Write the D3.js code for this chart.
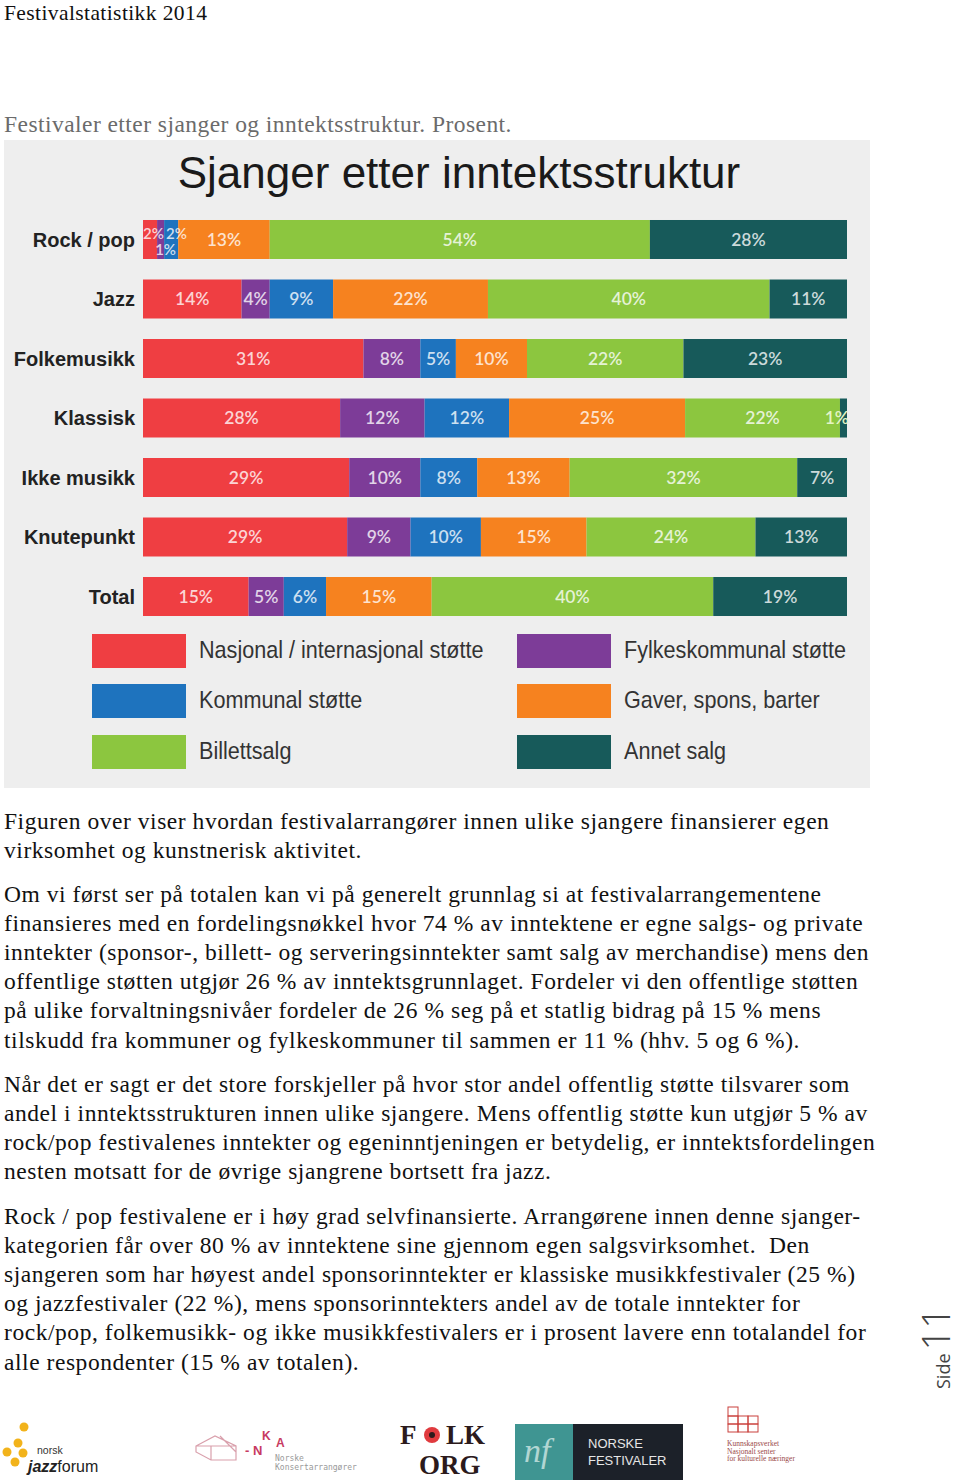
<!DOCTYPE html>
<html><head><meta charset="utf-8">
<script src="https://cdn.jsdelivr.net/npm/d3@7"></script>
<style>body{margin:0;background:#fff}svg{display:block}</style>
</head><body><svg id="c" width="960" height="1480"></svg>
<script>
// ---- data ----
const categories = ["Rock / pop","Jazz","Folkemusikk","Klassisk","Ikke musikk","Knutepunkt","Total"];
const seriesNames = ["Nasjonal / internasjonal støtte","Fylkeskommunal støtte","Kommunal støtte","Gaver, spons, barter","Billettsalg","Annet salg"];
const nasjonal = [2,14,31,28,29,29,15];
const fylkeskommunal = [1,4,8,12,10,9,5];
const kommunal = [2,9,5,12,8,10,6];
const gaver = [13,22,10,25,13,15,15];
const billettsalg = [54,40,22,22,32,24,40];
const annet = [28,11,23,1,7,13,19];
const colors = ["#ef3e42","#7d3c98","#1e73be","#f6821f","#8cc63f","#175a5a"];
// legend order (two columns)
const legendOrder = [0,2,4,1,3,5];

const seriesValues = [nasjonal,fylkeskommunal,kommunal,gaver,billettsalg,annet];
const rows = categories.map((c,i)=>{const o={cat:c}; seriesNames.forEach((s,j)=>o[s]=seriesValues[j][i]); return o;});

const svg = d3.select("#c");
const serif = "'Liberation Serif','DejaVu Serif',serif";
const sans = "'Liberation Sans',Arial,sans-serif";

// page header
svg.append("text").attr("x",4).attr("y",20).attr("font-family",serif).attr("font-size",21.5).attr("letter-spacing","0.4px").attr("fill","#111").text("Festivalstatistikk 2014");
svg.append("text").attr("x",4).attr("y",132).attr("font-family",serif).attr("font-size",23.5).attr("letter-spacing","0.45px").attr("fill","#6b6b6b").text("Festivaler etter sjanger og inntektsstruktur. Prosent.");

// chart panel
svg.append("rect").attr("x",4).attr("y",140).attr("width",866).attr("height",648).attr("fill","#eeeeee");
svg.append("text").attr("x",459).attr("y",188).attr("text-anchor","middle").attr("font-family",sans).attr("font-size",44).attr("fill","#1a1a1a").text("Sjanger etter inntektsstruktur");

const stack = d3.stack().keys(seriesNames).offset(d3.stackOffsetExpand);
const stacked = stack(rows);
const x = d3.scaleLinear().domain([0,1]).range([143,847]);
const y = d3.scaleBand().domain(categories).range([199.5,636.5]).paddingInner(0.3445).paddingOuter(0.3445);

const g = svg.append("g");
const layers = g.selectAll("g.layer").data(stacked).join("g").attr("class","layer").attr("fill",(d,i)=>colors[i]);
layers.selectAll("rect").data(d=>d.map(p=>({p,key:d.key}))).join("rect")
  .attr("x",d=>x(d.p[0])).attr("width",d=>x(d.p[1])-x(d.p[0]))
  .attr("y",d=>y(d.p.data.cat)).attr("height",y.bandwidth());

// segment labels
const lab = svg.append("g").attr("font-family","Lato,'Noto Sans',sans-serif").attr("font-weight",600);
stacked.forEach((layer,si)=>{
  const last = si===stacked.length-1;
  layer.forEach(p=>{
    const v = p.data[layer.key];
    const x0=x(p[0]), x1=x(p[1]), w=x1-x0;
    const cy = y(p.data.cat)+y.bandwidth()/2;
    const t = lab.append("text").attr("fill","rgba(255,255,255,0.78)").text(v+"%");
    if (w>=25) {
      t.attr("x",(x0+x1)/2).attr("y",cy).attr("dy","0.36em").attr("text-anchor","middle").attr("font-size",17.5);
    } else if (last) {
      t.attr("x",x1+2).attr("y",cy).attr("dy","0.36em").attr("text-anchor","end").attr("font-size",17.5).attr("fill","#e4f4c4");
    } else if (si%2===1) {
      t.attr("x",(x0+x1)/2+5).attr("y",cy+10).attr("dy","0.36em").attr("text-anchor","middle").attr("font-size",15);
    } else {
      t.attr("x",x0+(si===0?0:2)).attr("y",cy-6).attr("dy","0.36em").attr("text-anchor","start").attr("font-size",15);
    }
  });
});

// category labels
svg.append("g").selectAll("text").data(categories).join("text")
  .attr("x",135).attr("y",d=>y(d)+y.bandwidth()/2).attr("dy","0.36em").attr("text-anchor","end")
  .attr("font-family",sans).attr("font-size",20).attr("font-weight",600).attr("fill","#222").text(d=>d);

// legend
const lg = svg.append("g");
legendOrder.forEach((si,k)=>{
  const col = Math.floor(k/3), row = k%3;
  const lx = col===0?92:517, ly = [634,684,735][row];
  lg.append("rect").attr("x",lx).attr("y",ly).attr("width",94).attr("height",34).attr("fill",colors[si]);
  lg.append("text").attr("x",lx+107).attr("y",ly+15).attr("dy","0.36em").attr("font-family",sans).attr("font-size",24).attr("fill","#333")
    .attr("transform",`translate(${(lx+107)*0.1},0) scale(0.9,1)`).text(seriesNames[si]);
});

// body text
const paras = [
 ["Figuren over viser hvordan festivalarrangører innen ulike sjangere finansierer egen",
  "virksomhet og kunstnerisk aktivitet."],
 ["Om vi først ser på totalen kan vi på generelt grunnlag si at festivalarrangementene",
  "finansieres med en fordelingsnøkkel hvor 74 % av inntektene er egne salgs- og private",
  "inntekter (sponsor-, billett- og serveringsinntekter samt salg av merchandise) mens den",
  "offentlige støtten utgjør 26 % av inntektsgrunnlaget. Fordeler vi den offentlige støtten",
  "på ulike forvaltningsnivåer fordeler de 26 % seg på et statlig bidrag på 15 % mens",
  "tilskudd fra kommuner og fylkeskommuner til sammen er 11 % (hhv. 5 og 6 %)."],
 ["Når det er sagt er det store forskjeller på hvor stor andel offentlig støtte tilsvarer som",
  "andel i inntektsstrukturen innen ulike sjangere. Mens offentlig støtte kun utgjør 5 % av",
  "rock/pop festivalenes inntekter og egeninntjeningen er betydelig, er inntektsfordelingen",
  "nesten motsatt for de øvrige sjangrene bortsett fra jazz."],
 ["Rock / pop festivalene er i høy grad selvfinansierte. Arrangørene innen denne sjanger-",
  "kategorien får over 80 % av inntektene sine gjennom egen salgsvirksomhet.  Den",
  "sjangeren som har høyest andel sponsorinntekter er klassiske musikkfestivaler (25 %)",
  "og jazzfestivaler (22 %), mens sponsorinntekters andel av de totale inntekter for",
  "rock/pop, folkemusikk- og ikke musikkfestivalers er i prosent lavere enn totalandel for",
  "alle respondenter (15 % av totalen)."]
];
const paraTop = [829,902,1092,1224];
const bt = svg.append("g").attr("font-family",serif).attr("font-size",23.5).attr("fill","#111").attr("letter-spacing","0.55px");
paras.forEach((p,i)=>p.forEach((l,j)=>bt.append("text").attr("x",4).attr("y",paraTop[i]+j*29.1).attr("xml:space","preserve").style("white-space","pre").text(l)));

// side page number
const side = svg.append("text").attr("transform","translate(950,1389) rotate(-90)").attr("font-family","'Open Sans',sans-serif").attr("fill","#444");
side.append("tspan").attr("font-size",18).text("Side");
side.append("tspan").attr("font-size",38).attr("font-weight",300).attr("dx",3).text("11");

// footer logos (approximations)
const f = svg.append("g");
[[24,1427],[18,1443],[7,1452],[23,1453],[15,1462]].forEach(([cx,cy])=>f.append("circle").attr("cx",cx).attr("cy",cy).attr("r",4.5).attr("fill","#f2b31b"));
f.append("text").attr("x",37).attr("y",1454).attr("font-family",sans).attr("font-size",10.5).attr("fill","#333").text("norsk");
const jz = f.append("text").attr("x",28).attr("y",1472).attr("font-family",sans).attr("font-size",16).attr("fill","#222");
jz.append("tspan").attr("font-weight","bold").attr("font-style","italic").text("jazz");
jz.append("tspan").text("forum");
f.append("path").attr("d","M196,1446 L215,1436 L236,1446 L236,1460 L211,1460 L196,1452 Z M196,1446 L236,1446 M211,1446 L211,1460 M220,1436 L236,1452")
  .attr("fill","none").attr("stroke","#d9a0ac").attr("stroke-width",1.2);
const nka = f.append("text").attr("font-family",sans).attr("font-weight",600).attr("fill","#c73a62").attr("font-size",12);
nka.append("tspan").attr("x",262).attr("y",1440).text("K");
nka.append("tspan").attr("x",276).attr("y",1447).text("A");
nka.append("tspan").attr("x",245).attr("y",1455).attr("font-size",13).text("- N");
const nk2 = f.append("text").attr("font-family","'DejaVu Sans Mono',monospace").attr("font-size",8).attr("fill","#999");
nk2.append("tspan").attr("x",275).attr("y",1461).text("Norske");
nk2.append("tspan").attr("x",275).attr("y",1470).text("Konsertarrangører");
const foStyle = s=>s.attr("font-family",serif).attr("font-size",27).attr("font-weight",700).attr("fill","#2b1a1c");
const fo = foStyle(f.append("text"));
fo.append("tspan").attr("x",400).attr("y",1444).text("F");
fo.append("tspan").attr("x",446).attr("y",1444).text("LK");
foStyle(f.append("text")).attr("x",419).attr("y",1474).text("ORG");
f.append("circle").attr("cx",432).attr("cy",1435).attr("r",8).attr("fill","#e03a3e");
f.append("circle").attr("cx",432).attr("cy",1435).attr("r",3).attr("fill","#2b1a1c");
f.append("rect").attr("x",515).attr("y",1424).attr("width",168).attr("height",56).attr("fill","#1c2129");
f.append("rect").attr("x",515).attr("y",1424).attr("width",58).attr("height",56).attr("fill","#3f9592");
f.append("text").attr("x",524).attr("y",1462).attr("font-family",serif).attr("font-size",34).attr("font-style","italic").attr("fill","#cfe7e4").attr("opacity",0.8).text("nf");
const nf = f.append("text").attr("font-family",sans).attr("font-size",13).attr("fill","#e6e6e6");
nf.append("tspan").attr("x",588).attr("y",1448).text("NORSKE");
nf.append("tspan").attr("x",588).attr("y",1465).text("FESTIVALER");
const kg = f.append("g").attr("fill","none").attr("stroke","#c9403c").attr("stroke-width",1);
kg.append("rect").attr("x",728).attr("y",1407).attr("width",10).attr("height",9);
[[728,1416],[738,1416],[748,1416],[728,1424],[738,1424],[748,1424]].forEach(([a,b])=>kg.append("rect").attr("x",a).attr("y",b).attr("width",10).attr("height",8));
const kv = f.append("text").attr("font-family",serif).attr("font-size",7.5).attr("fill","#9a4a48");
["Kunnskapsverket","Nasjonalt senter","for kulturelle næringer"].forEach((t,i)=>kv.append("tspan").attr("x",727).attr("y",1446+i*7.5).text(t));
</script></body></html>
